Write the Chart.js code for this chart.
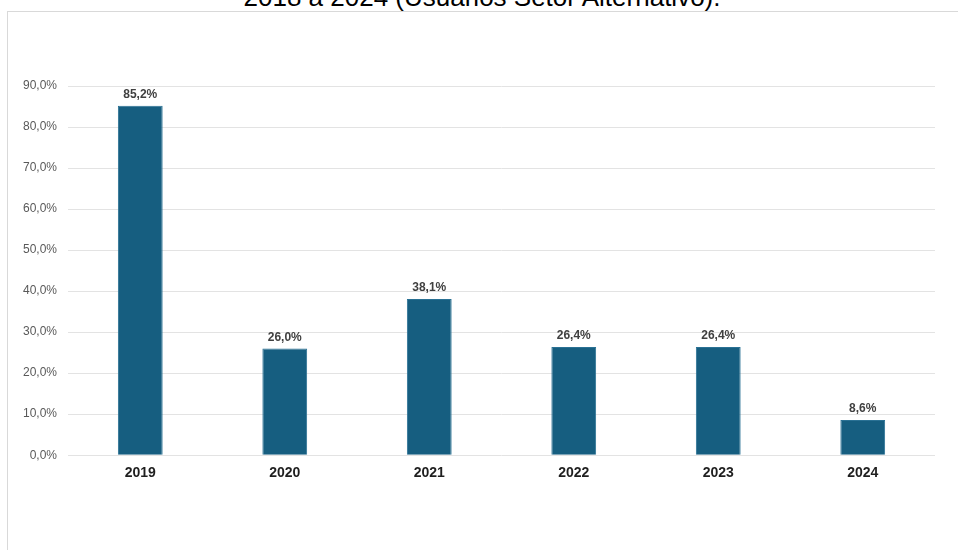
<!DOCTYPE html>
<html>
<head>
<meta charset="utf-8">
<script src="https://cdn.jsdelivr.net/npm/chart.js@4"></script>
<style>
  html, body { margin: 0; padding: 0; background: #fff; overflow: hidden; }
  body { width: 958px; height: 550px; position: relative; font-family: "Liberation Sans", Arial, sans-serif; }
  #title { position: absolute; left: 3px; width: 958px; top: -18px; line-height: 30px; text-align: center; font-size: 26px; color: #000; white-space: nowrap; }
  #frame { position: absolute; left: 7px; top: 11px; width: 980px; height: 560px; border: 1px solid #d9d9d9; }
  #wrap { position: absolute; left: 0; top: 0; width: 958px; height: 550px; }
</style>
</head>
<body>
<div id="title">2018 a 2024 (Usuários Setor Alternativo).</div>
<div id="frame"></div>
<div id="wrap"><canvas id="myChart"></canvas></div>
<script>
  const years = ["2019", "2020", "2021", "2022", "2023", "2024"];
  const values = [85.2, 26.0, 38.1, 26.4, 26.4, 8.6];

  const fmt = (v) => v.toFixed(1).replace(".", ",") + "%";

  // rótulos em cima das barras
  const barLabels = {
    id: "barLabels",
    afterDatasetsDraw(chart) {
      const { ctx } = chart;
      const meta = chart.getDatasetMeta(0);
      ctx.save();
      ctx.font = "bold 12px 'Liberation Sans', Arial, sans-serif";
      ctx.fillStyle = "#404040";
      ctx.textAlign = "center";
      ctx.textBaseline = "bottom";
      meta.data.forEach((bar, i) => {
        ctx.fillText(fmt(values[i]), bar.x, bar.y - 5);
      });
      ctx.restore();
    },
  };

  const ctx = document.getElementById("myChart").getContext("2d");
  new Chart(ctx, {
    type: "bar",
    data: {
      labels: years,
      datasets: [{
        data: values,
        backgroundColor: "#165e80",
        borderColor: "#2a7194",
        borderWidth: 1,
        categoryPercentage: 1,
        barPercentage: 0.31,
      }],
    },
    options: {
      responsive: true,
      maintainAspectRatio: false,
      animation: false,
      layout: { padding: { left: 12, right: 23, top: 86, bottom: 66 } },
      plugins: { legend: { display: false }, tooltip: { enabled: false } },
      scales: {
        x: {
          grid: { display: false },
          border: { display: false },
          ticks: {
            color: "#1f1f1f",
            padding: 2,
            font: { family: "'Liberation Sans', Arial, sans-serif", size: 14, weight: "bold" },
          },
        },
        y: {
          min: 0,
          max: 90,
          border: { display: false },
          grid: { color: "#e3e3e3", lineWidth: 1, drawTicks: false },
          ticks: {
            stepSize: 10,
            color: "#595959",
            padding: 11,
            font: { family: "'Liberation Sans', Arial, sans-serif", size: 12 },
            callback: (value) => fmt(value),
          },
        },
      },
    },
    plugins: [barLabels],
  });
</script>
</body>
</html>
